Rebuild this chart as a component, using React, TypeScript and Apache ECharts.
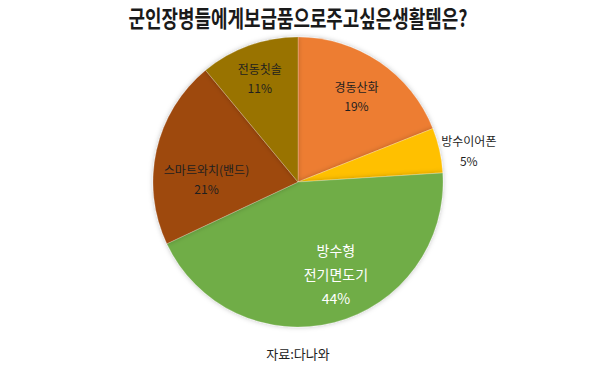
import React, { useEffect, useRef } from "react";
import * as echarts from "echarts";

const titleText = "군인장병들에게보급품으로주고싶은생활템은?";
const sourceText = "자료:다나와";
const categories = ["경동산화", "방수이어폰", "방수형\n전기면도기", "스마트와치(밴드)", "전동칫솔"];
const values = [19, 5, 44, 21, 11];
const colors = ["#ED7D31", "#FFC000", "#70AD47", "#9E480E", "#997300"];

// fine label nudges (style only)
const labelNudge = [
  [0, 0],
  [1, 6],
  [12, -9],
  [10, 20],
  [-3, -6],
];

const FONT = "'Noto Sans CJK KR', 'Noto Sans', sans-serif";

export default function App() {
  const ref = useRef<HTMLDivElement>(null);
  useEffect(() => {
    if (!ref.current) return;
    const chart = echarts.init(ref.current, undefined, { renderer: "svg" });
    const baseData = categories.map((name, i) => ({
      name,
      value: values[i],
      itemStyle: { color: colors[i] },
    }));
    const innerLabelData = categories.map((name, i) => ({
      name,
      value: values[i],
      label:
        i === 1
          ? { show: false }
          : i === 2
          ? { show: true, color: "#ffffff", fontSize: 14, lineHeight: 24 }
          : { show: true },
    }));
    const outerLabelData = categories.map((name, i) => ({
      name,
      value: values[i],
      label: { show: i === 1 },
    }));
    const center = [298, 182];
    const nudge = (p: any) => ({ dx: labelNudge[p.dataIndex][0], dy: labelNudge[p.dataIndex][1] });
    chart.setOption({
      animation: false,
      graphic: [
        {
          type: "text",
          x: 298,
          y: 17,
          scaleX: 0.78,
          style: {
            text: titleText,
            font: `bold 23px ${FONT}`,
            fill: "#1a1a1a",
            textAlign: "center",
            textVerticalAlign: "middle",
          },
        },
        {
          type: "text",
          x: 298,
          y: 353,
          style: {
            text: sourceText,
            font: `normal 13px ${FONT}`,
            fill: "#222222",
            textAlign: "center",
            textVerticalAlign: "middle",
          },
        },
      ],
      series: [
        {
          type: "pie",
          center,
          radius: [0, 145],
          startAngle: 90,
          clockwise: true,
          silent: true,
          label: { show: false },
          labelLine: { show: false },
          itemStyle: {
            borderColor: "rgba(255,255,255,0.35)",
            borderWidth: 0.6,
            shadowBlur: 5,
            shadowColor: "rgba(0,0,0,0.25)",
          },
          data: baseData,
        },
        {
          type: "pie",
          center,
          radius: [56, 146],
          startAngle: 90,
          clockwise: true,
          silent: true,
          itemStyle: { color: "transparent" },
          labelLine: { show: false },
          labelLayout: nudge,
          label: {
            show: true,
            position: "inside",
            formatter: (p: any) => `${p.name}\n${p.value}%`,
            color: "#1f1f1f",
            fontFamily: FONT,
            fontSize: 12,
            lineHeight: 19,
          },
          data: innerLabelData,
        },
        {
          type: "pie",
          center,
          radius: [132, 210],
          startAngle: 90,
          clockwise: true,
          silent: true,
          itemStyle: { color: "transparent" },
          labelLine: { show: false },
          labelLayout: nudge,
          label: {
            show: false,
            position: "inside",
            formatter: (p: any) => `${p.name}\n${p.value}%`,
            color: "#1f1f1f",
            fontFamily: FONT,
            fontSize: 12,
            lineHeight: 20,
          },
          data: outerLabelData,
        },
      ],
    });
    return () => chart.dispose();
  }, []);
  return (
    <div
      ref={ref}
      style={{ position: "fixed", left: 0, top: 0, width: 595, height: 365, background: "#ffffff" }}
    />
  );
}
